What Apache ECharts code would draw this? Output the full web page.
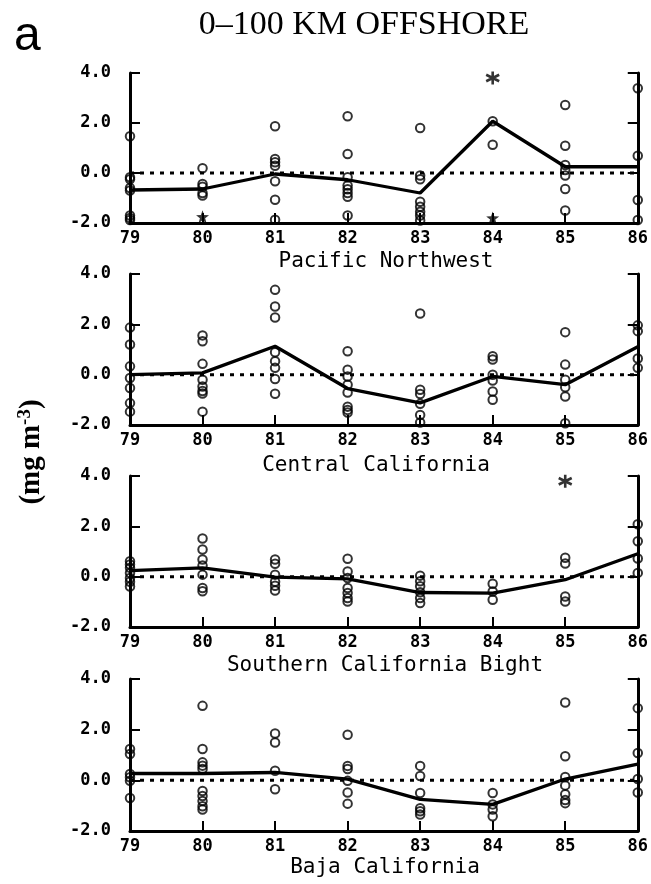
<!DOCTYPE html>
<html>
<head>
<meta charset="utf-8">
<script src="https://cdn.jsdelivr.net/npm/echarts@6/dist/echarts.min.js"></script>
<style>html,body{margin:0;padding:0;background:#fff}#c{width:651px;height:884px}</style>
</head>
<body>
<div id="c"></div>
<script>
// ---------- data ----------
const years = [79, 80, 81, 82, 83, 84, 85, 86];
const yTickValues = [-2, 0, 2, 4];
const regionNames = ['Pacific Northwest', 'Central California', 'Southern California Bight', 'Baja California'];

// Pacific Northwest
const mean1 = [-0.68, -0.64, -0.04, -0.27, -0.80, 2.07, 0.25, 0.25];
const pts1 = [
  [1.47, -0.17, -0.25, -0.60, -0.70, -1.70, -1.80, -1.88],
  [0.19, -0.44, -0.55, -0.80, -0.90],
  [1.87, 0.56, 0.43, 0.29, -0.33, -1.07, -1.87],
  [2.27, 0.76, -0.17, -0.50, -0.65, -0.80, -0.95, -1.70],
  [1.80, -0.10, -0.25, -1.15, -1.35, -1.55, -1.70, -1.90],
  [2.07, 1.13],
  [2.72, 1.09, 0.32, 0.12, -0.10, -0.64, -1.50],
  [3.39, 0.69, -1.08, -1.88]
];
const star1 = [null, -1.75, null, null, null, -1.80, null, null];
const aster1 = [null, null, null, null, null, 3.80, null, null];

// Central California
const mean2 = [0.00, 0.07, 1.13, -0.55, -1.12, -0.07, -0.40, 1.11];
const pts2 = [
  [1.87, 1.20, 0.33, -0.13, -0.53, -1.13, -1.47],
  [1.56, 1.33, 0.43, -0.20, -0.47, -0.65, -0.75, -1.47],
  [3.37, 2.71, 2.27, 0.89, 0.53, 0.27, -0.17, -0.76],
  [0.93, 0.20, -0.07, -0.40, -0.71, -1.27, -1.40, -1.50],
  [2.43, -0.60, -0.77, -1.16, -1.60, -1.90],
  [0.73, 0.60, 0.00, -0.23, -0.67, -1.00],
  [1.69, 0.40, -0.20, -0.50, -0.87, -1.93],
  [1.96, 1.73, 0.64, 0.27]
];
const star2 = [null, null, null, null, null, null, null, null];
const aster2 = [null, null, null, null, null, null, null, null];

// Southern California Bight
const mean3 = [0.24, 0.35, -0.02, -0.09, -0.63, -0.65, -0.12, 0.91];
const pts3 = [
  [0.61, 0.48, 0.35, 0.15, -0.05, -0.20, -0.39],
  [1.52, 1.08, 0.68, 0.44, 0.08, -0.45, -0.58],
  [0.68, 0.51, 0.08, -0.20, -0.36, -0.55],
  [0.71, 0.21, -0.05, -0.45, -0.65, -0.85, -0.99],
  [0.04, -0.18, -0.38, -0.62, -0.85, -1.05],
  [-0.28, -0.59, -0.92],
  [0.75, 0.52, -0.79, -0.99],
  [2.08, 1.41, 0.72, 0.15]
];
const star3 = [null, null, null, null, null, null, null, null];
const aster3 = [null, null, null, null, null, null, 3.79, null];

// Baja California
const mean4 = [0.27, 0.27, 0.31, 0.05, -0.75, -0.95, 0.05, 0.64];
const pts4 = [
  [1.24, 1.04, 0.25, 0.12, -0.02, -0.70],
  [2.94, 1.24, 0.71, 0.58, 0.45, -0.42, -0.62, -0.82, -1.02, -1.15],
  [1.85, 1.49, 0.38, -0.35],
  [1.80, 0.57, 0.45, -0.02, -0.48, -0.92],
  [0.57, 0.17, -0.50, -1.10, -1.22, -1.35],
  [-0.50, -0.95, -1.15, -1.42],
  [3.07, 0.95, 0.13, -0.20, -0.55, -0.78, -0.90],
  [2.85, 1.08, 0.05, -0.48]
];
const star4 = [null, null, null, null, null, null, null, null];
const aster4 = [null, null, null, null, null, null, null, null];

// ---------- chart ----------
const panels = [
  {mean: mean1, pts: pts1, star: star1, aster: aster1},
  {mean: mean2, pts: pts2, star: star2, aster: aster2},
  {mean: mean3, pts: pts3, star: star3, aster: aster3},
  {mean: mean4, pts: pts4, star: star4, aster: aster4}
];
const gridTops = [73, 274, 476, 679];
const gridHeights = [150, 151, 151, 152];
const subY = [262, 466, 666, 868];
const subX = [386, 376, 385, 385];

const tickFont = {fontFamily: 'DejaVu Sans Mono', fontWeight: 'bold', fontSize: 17, color: '#000'};
const ASTER = 'path://M10,0L10,20M1.34,5L18.66,15M1.34,15L18.66,5';
const STAR = 'path://M10,0L12.35,6.76L19.51,6.91L13.8,11.24L15.88,18.09L10,14L4.12,18.09L6.2,11.24L0.49,6.91L7.65,6.76Z';

const grid = [], xAxis = [], yAxis = [], series = [], graphic = [];
panels.forEach((p, i) => {
  grid.push({left: 130, right: 5, top: gridTops[i], height: gridHeights[i]});
  xAxis.push({
    type: 'value', gridIndex: i, min: 79, max: 86, interval: 1,
    axisLine: {show: true, onZero: false, lineStyle: {color: '#000', width: 3}},
    axisTick: {show: true, inside: true, length: 10, lineStyle: {color: '#000', width: 2}},
    axisLabel: Object.assign({margin: 7, formatter: v => String(v)}, tickFont),
    splitLine: {show: false}
  });
  const yBase = {
    type: 'value', gridIndex: i, min: -2, max: 4, interval: 2,
    axisLine: {show: true, onZero: false, lineStyle: {color: '#000', width: 3}},
    axisTick: {show: true, inside: true, length: 10, lineStyle: {color: '#000', width: 2}},
    splitLine: {show: false}
  };
  yAxis.push(Object.assign({}, yBase, {position: 'left',
    axisLabel: Object.assign({margin: 19, formatter: v => yTickValues.includes(v) ? v.toFixed(1) : ''}, tickFont)}));
  yAxis.push(Object.assign({}, yBase, {position: 'right', axisLabel: {show: false}}));

  // zero reference line
  series.push({
    type: 'line', xAxisIndex: i, yAxisIndex: 2 * i, data: [[years[0], 0], [years[years.length - 1], 0]],
    symbol: 'none', silent: true, z: 1,
    lineStyle: {color: '#000', width: 3, type: [4, 6]}
  });
  // mean line
  series.push({
    type: 'line', xAxisIndex: i, yAxisIndex: 2 * i,
    data: years.map((y, k) => [y, p.mean[k]]),
    symbol: 'none', z: 2, lineStyle: {color: '#000', width: 3.3}
  });
  // open circles
  const sd = [];
  p.pts.forEach((arr, k) => arr.forEach(v => sd.push([years[k], v])));
  series.push({
    type: 'scatter', xAxisIndex: i, yAxisIndex: 2 * i, data: sd, clip: false, z: 3,
    symbol: 'circle', symbolSize: 8.5,
    itemStyle: {color: 'rgba(0,0,0,0)', borderColor: '#000', borderWidth: 2}
  });
  // filled stars
  const st = [];
  p.star.forEach((v, k) => { if (v !== null) st.push([years[k], v]); });
  if (st.length) series.push({
    type: 'scatter', xAxisIndex: i, yAxisIndex: 2 * i, data: st, clip: false, z: 4,
    symbol: STAR, symbolSize: 13, itemStyle: {color: '#000'}
  });
  // asterisks
  const as = [];
  p.aster.forEach((v, k) => { if (v !== null) as.push([years[k], v]); });
  if (as.length) series.push({
    type: 'scatter', xAxisIndex: i, yAxisIndex: 2 * i, data: as, clip: false, z: 4,
    symbol: ASTER, symbolSize: 13,
    itemStyle: {color: 'rgba(0,0,0,0)', borderColor: '#000', borderWidth: 2.6}
  });

  graphic.push({
    type: 'text', x: subX[i], y: subY[i],
    style: {text: regionNames[i], fontFamily: 'DejaVu Sans Mono', fontSize: 21, fill: '#000',
      align: 'center', verticalAlign: 'middle'}
  });
});

graphic.push({
  type: 'text', x: 364, y: 25,
  style: {text: '0\u2013100 KM OFFSHORE', fontFamily: 'Liberation Serif', fontSize: 34, fill: '#000',
    align: 'center', verticalAlign: 'middle'}
});
graphic.push({
  type: 'text', x: 14, y: 37,
  style: {text: 'a', fontFamily: 'Liberation Sans', fontSize: 48, fill: '#000',
    align: 'left', verticalAlign: 'middle'}
});
graphic.push({
  type: 'text', x: 32, y: 452, rotation: Math.PI / 2,
  style: {
    text: '{b|(mg m}{s|-3}{b|)}', align: 'center', verticalAlign: 'middle',
    rich: {
      b: {fontFamily: 'Liberation Serif', fontWeight: 'bold', fontSize: 29, fill: '#000', lineHeight: 32},
      s: {fontFamily: 'Liberation Serif', fontWeight: 'bold', fontSize: 19, fill: '#000', verticalAlign: 'top', lineHeight: 32, padding: [0, 0, 14, 0]}
    }
  }
});

const chart = echarts.init(document.getElementById('c'), null, {renderer: 'canvas'});
chart.setOption({animation: false, backgroundColor: '#fff', grid, xAxis, yAxis, series, graphic});
</script>
</body>
</html>
